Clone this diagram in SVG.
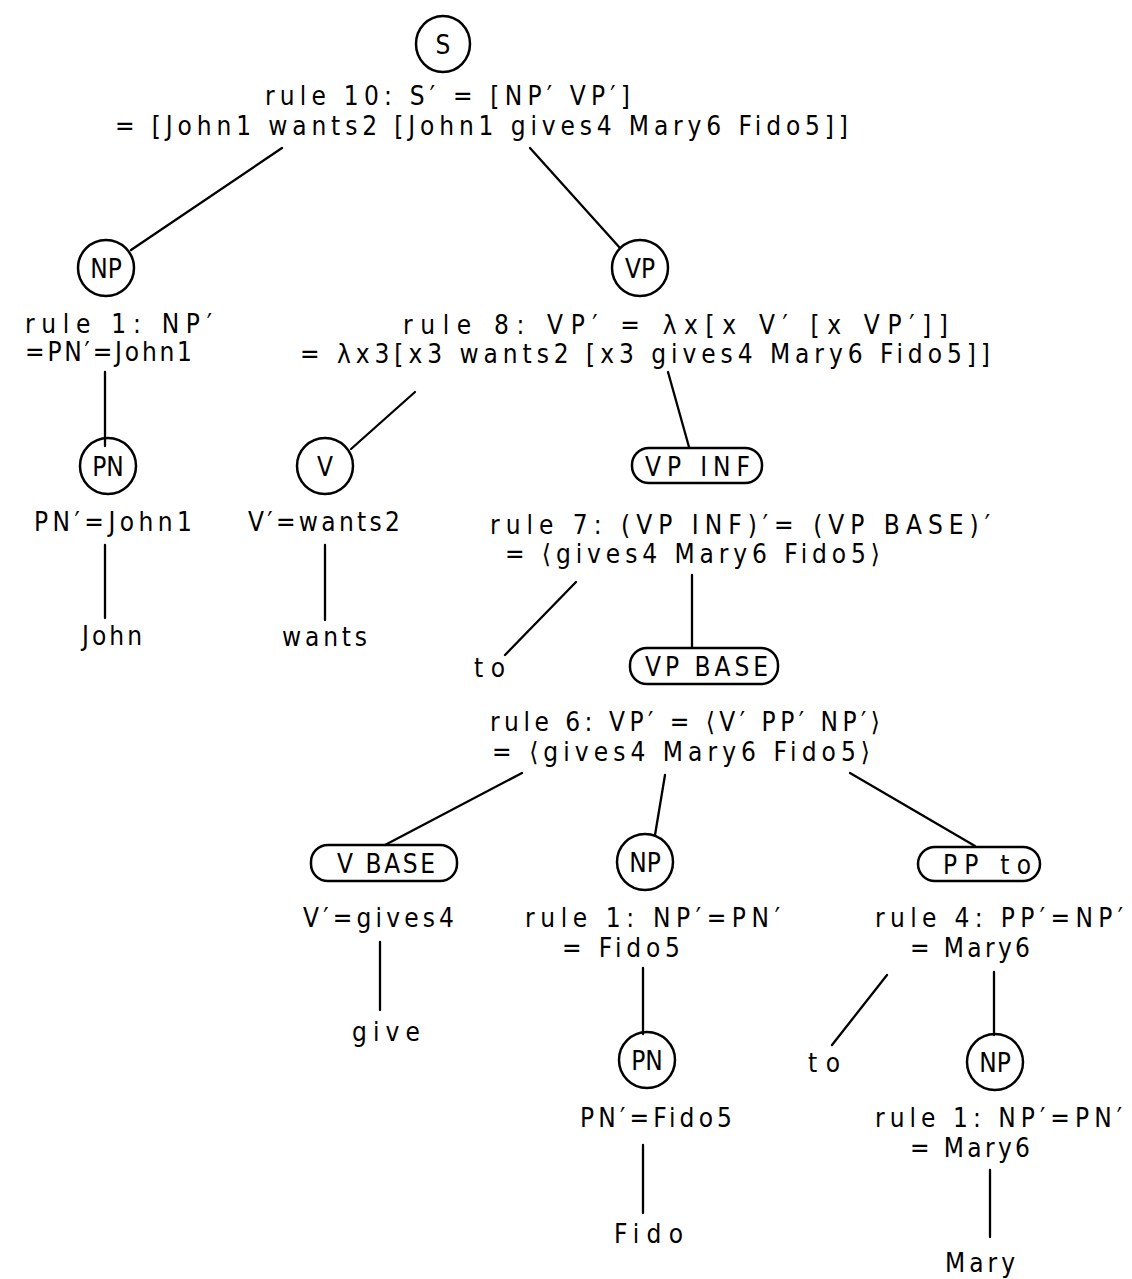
<svg xmlns="http://www.w3.org/2000/svg" width="1132" height="1279" viewBox="0 0 1132 1279">
<style>
text{font-family:"DejaVu Sans Condensed","Liberation Sans",sans-serif;font-size:26px;fill:#000}
.n{fill:none;stroke:#000;stroke-width:2.5}
line{stroke:#000;stroke-width:2.3;stroke-linecap:round}
.c{text-anchor:middle}
</style>
<rect width="1132" height="1279" fill="#fff"/>
<g id="connectors">
<line x1="282" y1="148" x2="131" y2="250"/>
<line x1="530" y1="148" x2="620" y2="248"/>
<line x1="105" y1="372" x2="105" y2="446"/>
<line x1="105" y1="545" x2="105" y2="618"/>
<line x1="415" y1="392" x2="351" y2="449"/>
<line x1="668" y1="372" x2="689" y2="447"/>
<line x1="325" y1="545" x2="325" y2="620"/>
<line x1="576" y1="582" x2="505" y2="655"/>
<line x1="692" y1="575" x2="692" y2="647"/>
<line x1="522" y1="773" x2="385" y2="845"/>
<line x1="665" y1="775" x2="655" y2="835"/>
<line x1="850" y1="773" x2="975" y2="846"/>
<line x1="380" y1="942" x2="380" y2="1010"/>
<line x1="643" y1="968" x2="643" y2="1034"/>
<line x1="887" y1="975" x2="832" y2="1045"/>
<line x1="994" y1="972" x2="994" y2="1035"/>
<line x1="643" y1="1145" x2="643" y2="1213"/>
<line x1="990" y1="1170" x2="990" y2="1237"/>
</g>
<g id="S">
<ellipse class="n" cx="443" cy="44" rx="27" ry="28"/>
<text class="c" x="443" y="54">S</text>
<text x="265" y="105" textLength="365" lengthAdjust="spacing">rule 10: S′ = [NP′ VP′]</text>
<text x="115" y="135" textLength="733" lengthAdjust="spacing">= [John1 wants2 [John1 gives4 Mary6 Fido5]]</text>
</g>
<g id="NP1">
<ellipse class="n" cx="106" cy="268" rx="28" ry="28"/>
<text class="c" x="106" y="278">NP</text>
<text x="25" y="333" textLength="187" lengthAdjust="spacing">rule 1: NP′</text>
<text x="25" y="361" textLength="167" lengthAdjust="spacing">=PN′=John1</text>
</g>
<g id="PN1">
<ellipse class="n" cx="108" cy="466" rx="28" ry="28"/>
<text class="c" x="108" y="476">PN</text>
<text x="34" y="531" textLength="158" lengthAdjust="spacing">PN′=John1</text>
</g>
<g id="John">
<text x="82" y="645" textLength="60" lengthAdjust="spacing">John</text>
</g>
<g id="VP">
<ellipse class="n" cx="640" cy="268" rx="28" ry="28"/>
<text class="c" x="640" y="278">VP</text>
<text x="403" y="334" textLength="545" lengthAdjust="spacing">rule 8: VP′ = λx[x V′ [x VP′]]</text>
<text x="300" y="363" textLength="690" lengthAdjust="spacing">= λx3[x3 wants2 [x3 gives4 Mary6 Fido5]]</text>
</g>
<g id="V">
<ellipse class="n" cx="325" cy="466" rx="28" ry="28"/>
<text class="c" x="325" y="476">V</text>
<text x="248" y="531" textLength="152" lengthAdjust="spacing">V′=wants2</text>
</g>
<g id="wants">
<text x="282" y="646" textLength="85" lengthAdjust="spacing">wants</text>
</g>
<g id="VPINF">
<rect class="n" x="632" y="448" width="130" height="35" rx="17"/>
<text x="645" y="476" textLength="105" lengthAdjust="spacing">VP INF</text>
<text x="490" y="534" textLength="500" lengthAdjust="spacing">rule 7: (VP INF)′= (VP BASE)′</text>
<text x="505" y="563" textLength="375" lengthAdjust="spacing">= ⟨gives4 Mary6 Fido5⟩</text>
</g>
<g id="to1">
<text x="474" y="677" textLength="31" lengthAdjust="spacing">to</text>
</g>
<g id="VPBASE">
<rect class="n" x="630" y="648" width="148" height="36" rx="17"/>
<text x="645" y="676" textLength="123" lengthAdjust="spacing">VP BASE</text>
<text x="490" y="731" textLength="390" lengthAdjust="spacing">rule 6: VP′ = ⟨V′ PP′ NP′⟩</text>
<text x="492" y="761" textLength="378" lengthAdjust="spacing">= ⟨gives4 Mary6 Fido5⟩</text>
</g>
<g id="VBASE">
<rect class="n" x="311" y="845" width="146" height="36" rx="17"/>
<text x="337" y="873" textLength="98" lengthAdjust="spacing">V BASE</text>
<text x="303" y="927" textLength="151" lengthAdjust="spacing">V′=gives4</text>
</g>
<g id="give">
<text x="352" y="1041" textLength="68" lengthAdjust="spacing">give</text>
</g>
<g id="NP2">
<ellipse class="n" cx="645" cy="862" rx="28" ry="28"/>
<text class="c" x="645" y="872">NP</text>
<text x="525" y="927" textLength="255" lengthAdjust="spacing">rule 1: NP′=PN′</text>
<text x="562" y="957" textLength="118" lengthAdjust="spacing">= Fido5</text>
</g>
<g id="PN2">
<ellipse class="n" cx="647" cy="1060" rx="28" ry="28"/>
<text class="c" x="647" y="1070">PN</text>
<text x="580" y="1127" textLength="152" lengthAdjust="spacing">PN′=Fido5</text>
</g>
<g id="Fido">
<text x="614" y="1243" textLength="69" lengthAdjust="spacing">Fido</text>
</g>
<g id="PPto">
<rect class="n" x="918" y="847" width="122" height="34" rx="17"/>
<text x="943" y="874" textLength="88" lengthAdjust="spacing">PP to</text>
<text x="875" y="927" textLength="248" lengthAdjust="spacing">rule 4: PP′=NP′</text>
<text x="910" y="957" textLength="120" lengthAdjust="spacing">= Mary6</text>
</g>
<g id="to2">
<text x="808" y="1072" textLength="32" lengthAdjust="spacing">to</text>
</g>
<g id="NP3">
<ellipse class="n" cx="995" cy="1062" rx="28" ry="28"/>
<text class="c" x="995" y="1072">NP</text>
<text x="875" y="1127" textLength="247" lengthAdjust="spacing">rule 1: NP′=PN′</text>
<text x="910" y="1157" textLength="120" lengthAdjust="spacing">= Mary6</text>
</g>
<g id="Mary">
<text x="945" y="1272" textLength="70" lengthAdjust="spacing">Mary</text>
</g>
</svg>
